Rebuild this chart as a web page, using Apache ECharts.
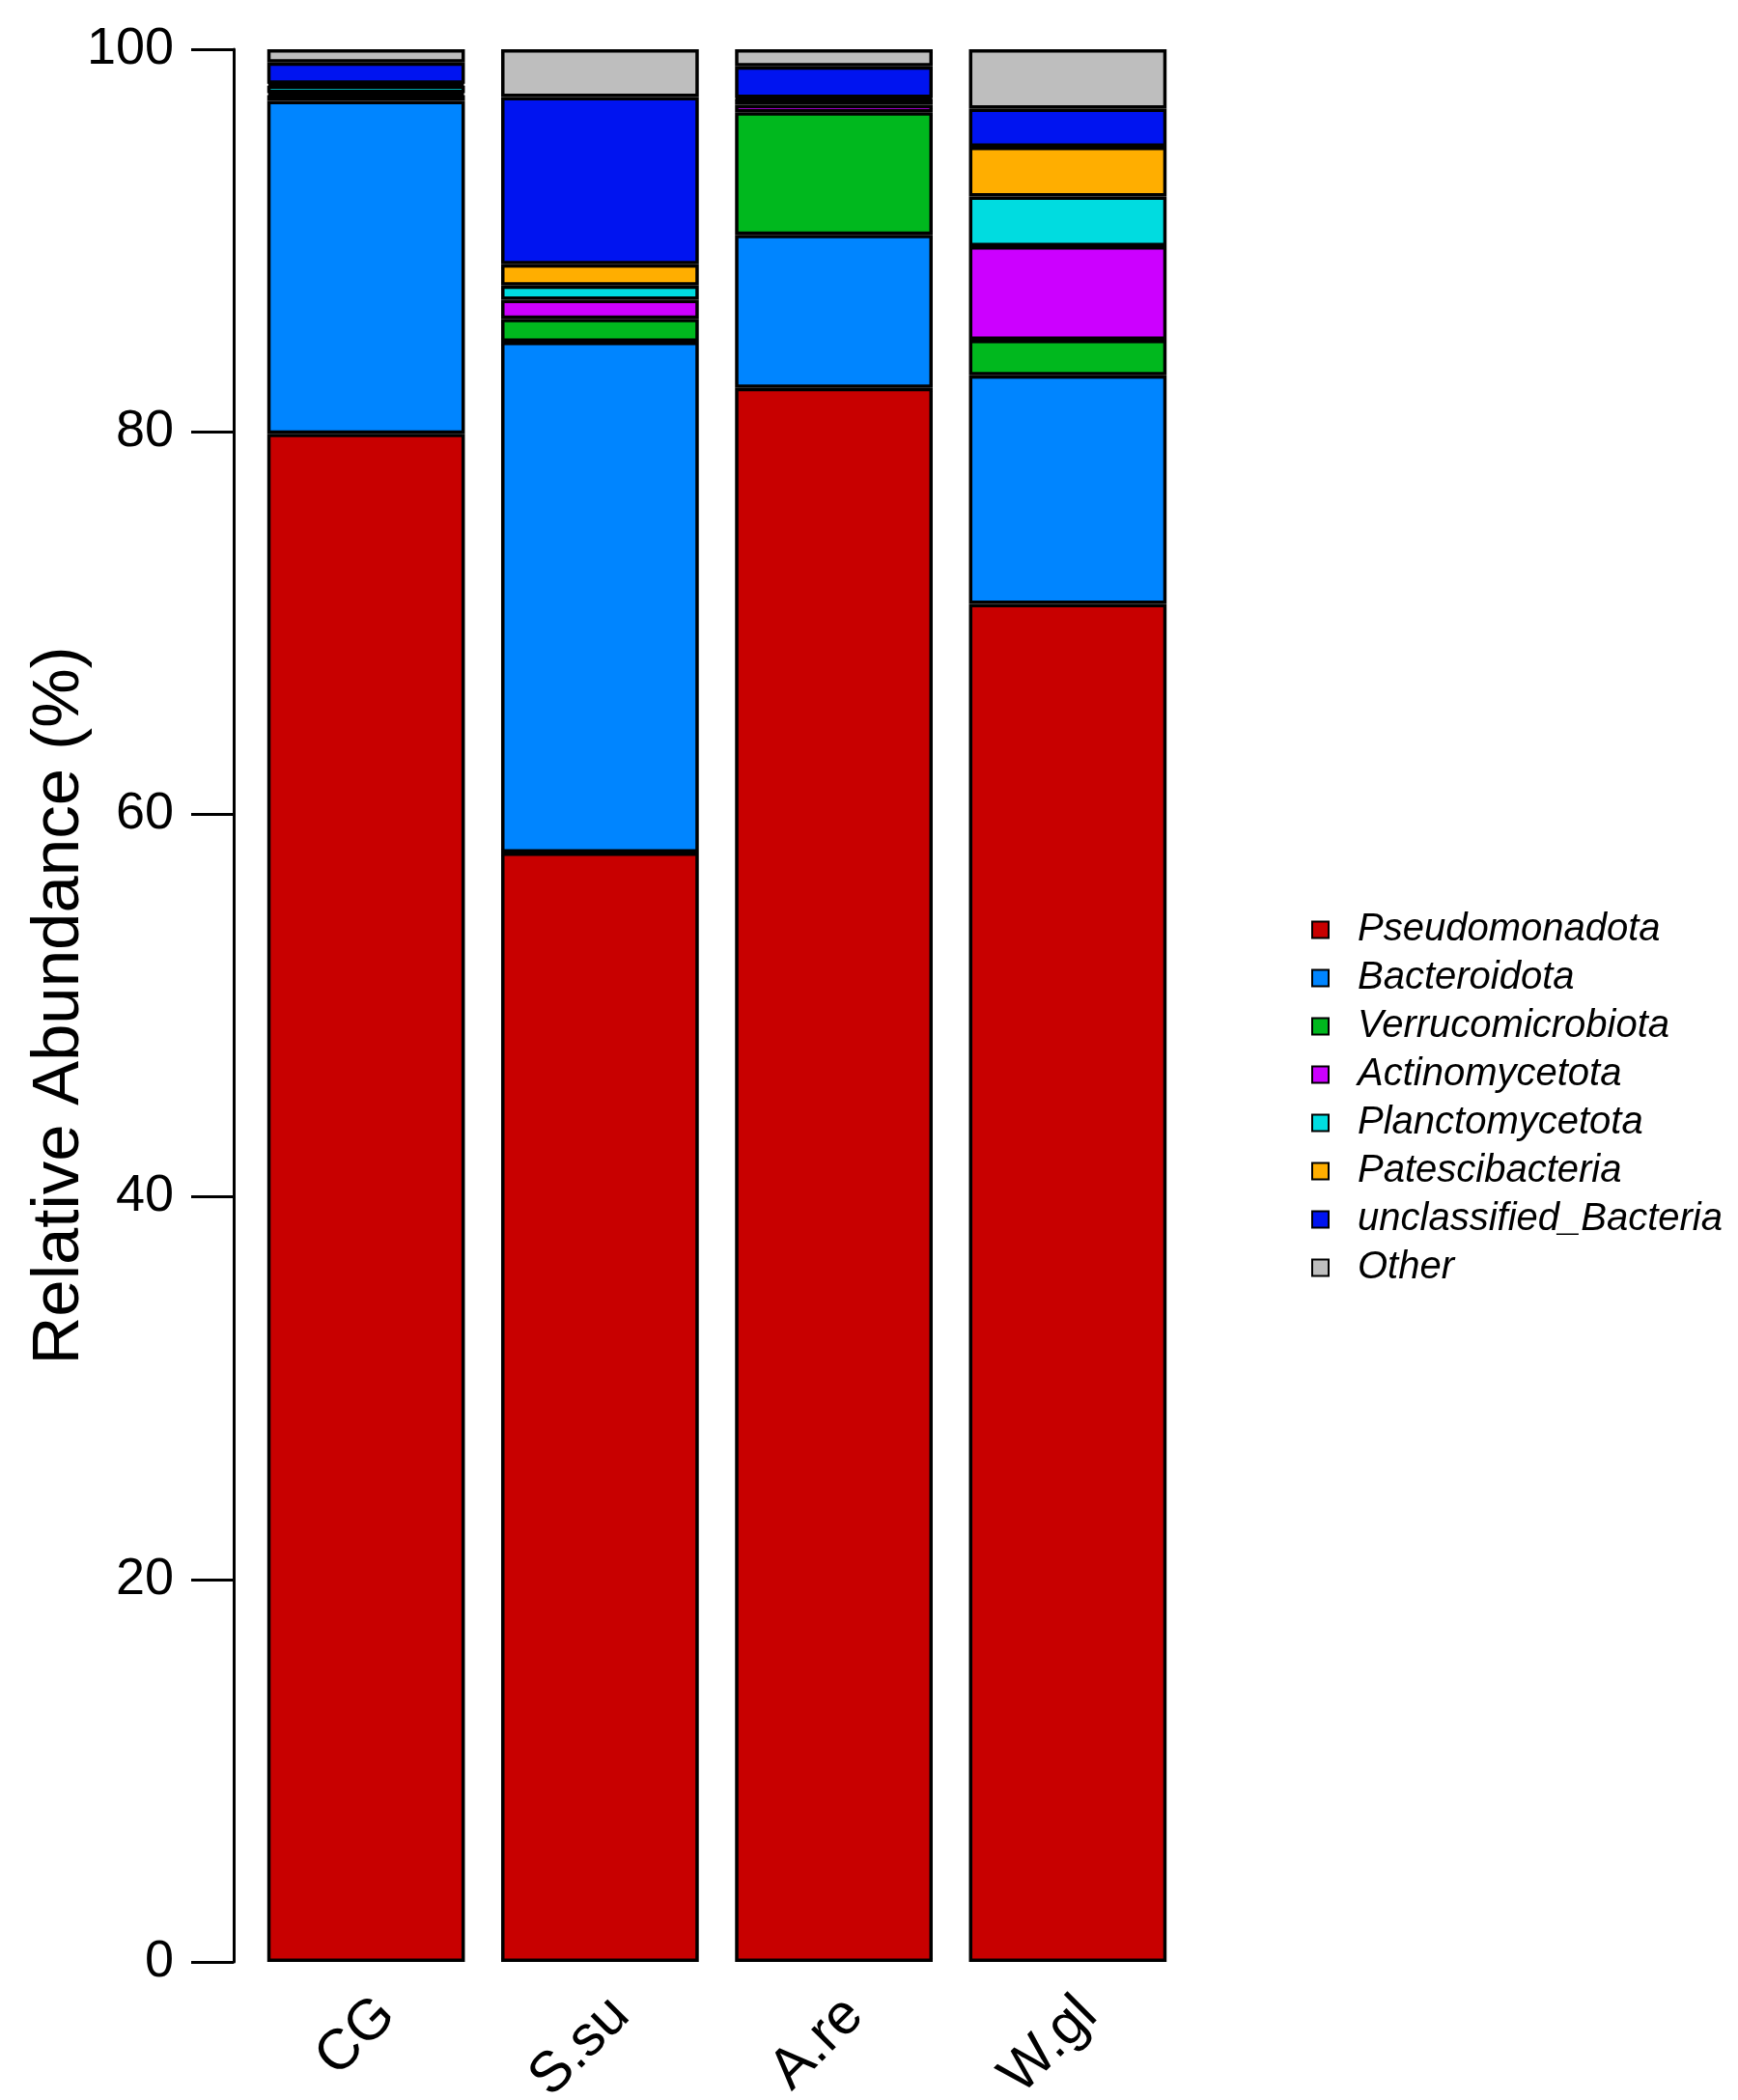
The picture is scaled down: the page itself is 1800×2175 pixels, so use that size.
<!DOCTYPE html>
<html>
<head>
<meta charset="utf-8">
<script src="https://cdn.jsdelivr.net/npm/echarts@6/dist/echarts.min.js"></script>
<style>
html,body{margin:0;padding:0;background:#fff;}
#chart{width:1800px;height:2175px;}
</style>
</head>
<body>
<div id="chart"></div>
<script>
var categories = ['CG', 'S.su', 'A.re', 'W.gl'];
var yTicks = [0, 20, 40, 60, 80, 100];
var pseudomonadota = [79.9, 58.0, 82.3, 71.0];
var bacteroidota = [17.4, 26.7, 8.0, 11.95];
var verrucomicrobiota = [0.3, 1.2, 6.4, 1.85];
var actinomycetota = [0.1, 1.0, 0.4, 4.9];
var planctomycetota = [0.4, 0.75, 0.3, 2.6];
var patescibacteria = [0.1, 1.1, 0.05, 2.6];
var unclassifiedBacteria = [1.1, 8.75, 1.65, 2.0];
var other = [0.7, 2.5, 0.9, 3.1];

var seriesNames = ['Pseudomonadota', 'Bacteroidota', 'Verrucomicrobiota', 'Actinomycetota',
  'Planctomycetota', 'Patescibacteria', 'unclassified_Bacteria', 'Other'];
var seriesData = [pseudomonadota, bacteroidota, verrucomicrobiota, actinomycetota,
  planctomycetota, patescibacteria, unclassifiedBacteria, other];
var colors = ['#C80000', '#0085FF', '#00B81E', '#CC00FF', '#00DCE0', '#FFAE00', '#0014F0', '#BEBEBE'];

var FONT = 'Liberation Sans, Arial, sans-serif';
var chart = echarts.init(document.getElementById('chart'), null, {renderer: 'canvas'});

var series = seriesNames.map(function (name, i) {
  return {
    name: name,
    type: 'bar',
    stack: 'total',
    data: seriesData[i],
    barCategoryGap: '15.5%',
    itemStyle: {color: colors[i], borderColor: '#000', borderWidth: 3.5},
    emphasis: {disabled: true}
  };
});

chart.setOption({
  animation: false,
  backgroundColor: '#fff',
  color: colors,
  grid: {left: 258, right: 573, top: 51, bottom: 143, containLabel: false, outerBoundsMode: 'none'},
  legend: {
    orient: 'vertical',
    left: 1353,
    top: 933,
    itemWidth: 17,
    itemHeight: 17,
    itemGap: 0,
    icon: 'rect',
    data: seriesNames,
    textStyle: {fontFamily: FONT, fontSize: 40, fontStyle: 'italic', color: '#000', lineHeight: 50, padding: [0, 0, 0, 25]}
  },
  xAxis: {
    type: 'category',
    data: categories,
    axisLine: {show: false},
    axisTick: {show: false},
    axisLabel: {
      rotate: 45, interval: 0, margin: 25, fontFamily: FONT, fontSize: 59, lineHeight: 60, color: '#000',
      formatter: function (v) { return '\n' + v; }
    }
  },
  yAxis: {
    type: 'value',
    min: yTicks[0],
    max: yTicks[yTicks.length - 1],
    interval: 20,
    offset: 16,
    name: 'Relative Abundance (%)',
    nameLocation: 'middle',
    nameGap: 146,
    nameMoveOverlap: false,
    nameTextStyle: {fontFamily: FONT, fontSize: 69, color: '#000'},
    axisLine: {show: true, lineStyle: {color: '#000', width: 3}},
    axisTick: {show: true, length: 44, lineStyle: {color: '#000', width: 3}},
    axisLabel: {margin: 62, fontFamily: FONT, fontSize: 54, color: '#000'},
    splitLine: {show: false}
  },
  series: series
});
</script>
</body>
</html>
